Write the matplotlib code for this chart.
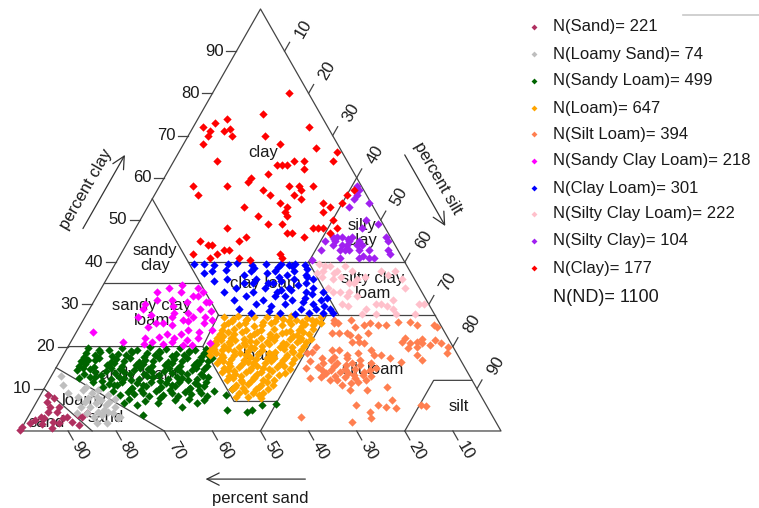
import numpy as np
import matplotlib.pyplot as plt
from matplotlib.lines import Line2D

plt.rcParams['font.family'] = ['Liberation Sans', 'DejaVu Sans']

# ---- samples: (percent sand, percent clay) ----
pts_sand = [(99.8, 0.3), (99, 1), (97, 1.9), (95.5, 2.6), (94.5, 1.7), (94, 3.3), (93.5, 3),
            (93, 0.7), (92, 2.1), (92, 4.5), (91, 1.9), (91, 5.7), (91, 6.9), (90, 8.5),
            (90, 4.5), (89, 7.8), (89, 5.7), (89.5, 3.1), (88.5, 3.3), (88, 2.2), (86, 3.8),
            (85.5, 3.3), (84, 4.3), (87, 1.5)]
pts_loamy_sand = [(85, 13), (85.5, 9), (84, 8), (82, 9.7), (81, 10.4), (80.5, 9), (79, 9.7),
                  (78, 10.2), (77.5, 8.5), (83, 6.9), (82.5, 5.7), (81, 6.6), (79.5, 7.3),
                  (79, 6.2), (78, 6.9), (77.5, 5.7), (84, 4.3), (83, 3.3), (81.5, 4.5), (81, 3.8),
                  (79.5, 4.5), (78.5, 4.3), (78, 3.1), (84.5, 5.7), (86, 4.3), (83, 1.9),
                  (81, 1.9), (77.5, 3.3), (80, 8), (82, 7.8), (80, 5), (76.5, 7.5), (85.5, 11)]
pts_sandy_loam = [
    (76, 19.6), (72, 19.2), (69, 19.7), (66, 19.3), (63, 19.8), (60, 19.4), (57, 19.6), (54, 19.1), (51.5, 19.5),
    (77, 18.5), (74, 18.8), (70.5, 18.3), (67.5, 18.6), (64.5, 18.4), (61.5, 18.7), (58.5, 18.3), (55.5, 18.6), (52.5, 18.4),
    (78, 17.5), (75, 17.2), (72, 17.7), (68.5, 17.4), (65.5, 17.6), (62.5, 17.3), (59.5, 17.7), (56.5, 17.4), (53.5, 17.6), (51.5, 17.2),
    (79, 16.5), (76, 16.8), (73, 16.3), (70, 16.6), (67, 16.4), (64, 16.7), (61, 16.3), (58, 16.6), (55, 16.4), (52.5, 16.7),
    (80, 15.5), (77, 15.2), (74, 15.7), (71, 15.4), (68, 15.6), (65, 15.3), (62, 15.7), (59, 15.4), (56, 15.6), (53.5, 15.3),
    (81, 14.5), (78, 14.8), (75, 14.3), (72, 14.6), (69, 14.4), (66, 14.7), (63, 14.3), (60, 14.6), (57, 14.4), (54.5, 14.7),
    (80, 13.5), (76.5, 13.2), (73.5, 13.7), (70.5, 13.4), (67.5, 13.6), (64.5, 13.3), (61.5, 13.7), (58.5, 13.4), (55.5, 13.6),
    (81.5, 12.5), (78, 12.8), (75, 12.3), (72, 12.6), (69, 12.4), (66, 12.7), (63, 12.3), (60, 12.6), (57, 12.4), (54.5, 12.7),
    (79, 11.5), (76, 11.2), (73, 11.7), (70, 11.4), (67, 11.6), (64, 11.3), (61, 11.7), (58, 11.4), (55.5, 11.6),
    (77.5, 10.5), (74.5, 10.8), (71.5, 10.3), (68.5, 10.6), (65.5, 10.4), (62.5, 10.7), (59.5, 10.3), (56.5, 10.6),
    (76, 9.5), (73, 9.2), (70, 9.7), (67, 9.4), (64, 9.6), (61, 9.3), (58, 9.7), (55, 9.4),
    (75, 8.5), (72, 8.8), (69, 8.3), (66, 8.6), (63, 8.4), (60, 8.7), (57, 8.3),
    (73.5, 7.5), (70.5, 7.2), (67, 7.7), (64, 7.4), (61, 7.6), (58, 7.3),
    (75, 6.6), (72.6, 6.2), (68, 6.6), (63.5, 5.7), (60, 6.6), (72.5, 3.8), (54.5, 5),
    (50.5, 4.5), (46.5, 6.2), (49.3, 5), (53, 8.5), (51, 10), (43.5, 6.5),
    (74, 19.1), (67.5, 19.0), (61.5, 19.0), (55.5, 18.9), (75.5, 18.0), (69, 17.9), (63, 18.0),
    (57, 17.9), (52, 17.9), (77.5, 16.9), (71.5, 17.0), (65.5, 16.9), (59.5, 17.0), (54, 16.9),
    (78.5, 15.9), (72.5, 16.0), (66.5, 15.9), (60.5, 16.0), (55, 15.9), (79.5, 14.9), (73.5, 15.0),
    (67.5, 15.0), (61.5, 14.9), (56, 15.0), (77.5, 13.9), (71.5, 13.9), (65.5, 14.0), (59.5, 13.9),
    (79, 12.9), (73, 12.9), (67, 13.0), (61, 12.9), (55.5, 13), (77, 11.9), (71, 12.0), (65, 11.9),
    (59, 12.0), (75, 10.9), (69, 11.0), (63, 10.9), (57.5, 11.0), (72, 9.9), (66, 10.0), (60, 9.9),
    (70, 8.9), (64, 9.0), (58, 8.9)]
pts_loam = [
    (44, 27), (41, 27.2), (38, 26.9), (35, 27.1), (33, 27), (30, 27.2), (27, 26.8), (24, 27),
    (43, 26), (40, 26.2), (36.5, 25.8), (34, 26.1), (31, 26), (28.5, 25.9), (25.5, 26.1), (24.5, 25.7),
    (45, 25), (42, 25.1), (39, 24.9), (37, 25.2), (33, 25), (29, 24.8), (26.5, 25),
    (46, 24), (43.5, 24.1), (41, 23.9), (38, 24), (35, 24.2), (32, 23.8), (30, 24), (27, 24.1),
    (47, 23), (44, 23.1), (40, 22.9), (36.5, 23), (34, 23.2), (31, 22.8), (28.5, 23),
    (48, 22), (45, 22.1), (42.5, 21.9), (39, 22), (37, 22.2), (33, 21.9), (30.5, 22), (28.5, 21.8),
    (49, 21), (46, 21.1), (43, 20.9), (40.5, 21), (38, 21.2), (35, 20.8), (32, 21), (30, 21.1),
    (50, 20), (47.5, 20.1), (44.5, 19.9), (42, 20), (39.5, 20.2), (36, 19.8), (33.5, 20), (31, 20.1),
    (51, 19), (48.5, 19.1), (46, 18.9), (43, 19), (40, 19.2), (37.5, 18.8), (34, 19), (32, 19.1),
    (51.5, 18), (49, 18.1), (46.5, 17.9), (44, 18), (41.5, 18.2), (38.5, 17.8), (35.5, 18), (33, 18.1),
    (50, 17), (47.5, 17.1), (45, 16.9), (42.5, 17), (40, 17.2), (37, 16.8), (34.5, 17),
    (51, 16), (48.5, 16.1), (46, 15.9), (43.5, 16), (41, 16.2), (38, 15.8), (35.5, 16),
    (50, 15), (47, 15.1), (44.5, 14.9), (42, 15), (39, 15.2), (36.5, 14.8),
    (51, 14), (48.5, 14.1), (46, 13.9), (43, 14), (40.5, 14.2), (38, 13.8),
    (50, 13), (47.5, 13.1), (45, 12.9), (42, 13), (39.5, 13.2),
    (51, 12), (48, 12.1), (46, 11.9), (43.5, 12), (41, 12.2),
    (49.5, 11), (47, 11.1), (44.5, 10.9), (42, 11),
    (51, 10), (48.5, 10.1), (46, 9.9), (43.5, 10),
    (50, 9), (47, 9.1), (45, 8.9),
    (51, 8), (48.5, 8.1), (46, 7.9),
    (42.5, 26.5), (39.5, 26.6), (32, 26.5), (29.5, 26.4), (26, 26.4), (44, 25.5), (40.5, 25.6),
    (35, 25.5), (31, 25.4), (28, 25.4), (45, 23.5), (42, 23.5), (39, 23.4), (33, 23.5), (29.5, 23.4),
    (46.5, 22.5), (41, 22.5), (35.5, 22.6), (32, 22.4), (47.5, 21.5), (44.5, 21.5), (41.5, 21.4),
    (36.5, 21.5), (31, 21.5), (49, 20.5), (46, 20.6), (43, 20.4), (38, 20.5), (34.5, 20.5),
    (50, 19.5), (47, 19.5), (41.5, 19.6), (35.5, 19.4), (50, 18.5), (45, 18.5), (39, 18.4),
    (34, 18.6), (49, 17.5), (43.5, 17.5), (38.5, 17.4), (36, 17.5), (49.5, 16.5), (44.5, 16.4),
    (39.5, 16.6), (48.5, 15.5), (43, 15.5), (37.5, 15.4), (49.5, 14.5), (45, 14.5), (41, 14.6),
    (48.5, 13.5), (44, 13.5), (49.5, 12.5), (45, 12.5), (48, 11.5), (43, 11.5), (50, 10.5),
    (45, 10.5), (48.5, 9.5), (46, 8.5)]
pts_silt_loam = [
    (21, 25.6), (18, 26.3), (18, 24.6), (16, 25), (14.5, 25.6), (13, 25), (11.5, 25), (8.5, 25.8),
    (6, 25.8), (5, 25), (1.5, 25), (23.5, 23.2), (22, 23.2), (20, 22.7), (18.5, 22.3), (16, 23.2),
    (20.5, 21.1), (19, 21.1), (18, 20.9), (10, 21.1), (8.5, 20.9), (7, 21.1), (6, 20.9), (4.5, 20.4),
    (2, 20.9), (1, 19.9), (2, 18.5), (9.5, 19.7), (8.5, 18), (24, 19.2), (23, 18), (20.5, 18.5),
    (17.5, 19.2), (17.5, 18), (16, 18), (14.5, 17.3), (12.5, 16.4), (8, 16.8), (30, 18.7), (28.5, 17.3),
    (27, 16.8), (33, 14.9), (30.5, 15.2), (30, 14.5), (28, 14.5), (26.5, 14), (25, 13.7), (24, 13.3),
    (21.5, 14), (20, 14.5), (18.5, 14.9), (21.5, 15.6), (23, 16.1), (24.5, 15.6), (19, 16.1),
    (33.5, 12.6), (31, 12.8), (29.5, 12.1), (28, 12.1), (25.5, 11.4), (24, 11.6), (22, 12.1),
    (26.5, 9.7), (23, 9.7), (18.5, 10.4), (27, 6.2), (22.5, 6.2), (21, 5.7), (19, 5.5), (13.5, 6.2),
    (25, 4.5), (25.5, 3.1), (30, 2.1), (40, 3.3), (29.5, 13.7), (31, 18.5), (28.5, 19.9), (19, 7.3),
    (12.5, 6), (1, 24.6), (22, 25.6), (20.5, 23.2), (21.5, 26.3), (26, 16.1), (25.5, 19.2),
    (27, 15.5), (25, 14.8), (23, 14.7), (22, 13.3), (26, 12.8), (28, 13.1), (30, 13.5), (24, 12.5),
    (20.5, 13), (27.5, 11), (21, 16.8), (23.5, 17.2), (26, 17.5), (29, 16), (31.5, 16.5),
    (5.5, 21.8), (3, 21.5), (9, 22), (7.5, 20)]
pts_sandy_clay_loam = [
    (55, 33), (50, 33), (48, 32), (50, 30.5), (53.5, 29.5), (47, 32), (46, 30.5), (46, 28.5), (48, 29),
    (50.5, 27), (53, 26.3), (55, 27), (57.5, 25.6), (58, 23), (60, 22.3), (62, 21), (63, 22), (61, 24.6),
    (73, 23.5), (68, 21), (55, 23), (53, 24), (49, 25.6), (47, 26.3), (48, 24), (52, 22), (54.5, 21.5),
    (58, 21), (60, 20.5), (64, 20.5), (54, 20.4), (56, 20.3), (60, 29), (59, 27.5), (45.5, 33),
    (45.5, 30.5), (52, 34), (49, 34.5), (53, 31), (56, 31), (51, 28), (56, 25), (59, 25.5), (51, 23.5),
    (57, 22), (50, 20.8), (52, 26), (54, 28), (48, 27), (46, 34), (59, 30), (62, 27)]
pts_clay_loam = [
    (44, 39.5), (42, 39.6), (40, 39.4), (37, 39.5), (35, 39.7), (32, 39.4), (29, 39.6), (26, 39.5),
    (24.5, 39.3), (23, 39.6), (21, 39.4), (43, 37.5), (41, 38), (38, 38.2), (35, 37), (33, 38),
    (30, 37.5), (28, 38), (26, 37), (24, 38), (22, 37), (21, 38.5), (42, 35.5), (39, 36), (36, 35),
    (33, 36), (31, 35), (28, 35.5), (25, 36), (23, 35), (21, 36), (27, 34), (41, 33), (38, 34),
    (35, 33), (32, 34), (30, 33), (27, 33.5), (24, 33), (22, 34), (20.5, 33), (29, 32), (40, 31),
    (37, 32), (34, 31), (31, 32), (28, 31), (25, 31.5), (22, 31), (20.5, 31.5), (40, 29), (36, 30),
    (33, 29.5), (30, 30), (27, 29), (24, 30), (21, 29), (34, 28.5), (38, 28), (32, 28), (26, 28),
    (23, 28), (21, 28), (29, 27.8), (24, 39), (27, 38.8), (22, 36.5), (25, 34.5), (23, 32.5),
    (26, 30.5), (28, 36.5), (30, 35), (32, 38.6), (34, 35), (24, 28.8), (22, 29.5), (29, 33.5)]
pts_silty_clay_loam = [
    (18, 39.5), (17, 39), (15, 38), (13, 39), (12, 38), (19, 36.5), (17, 36), (15, 36.5), (14, 35),
    (12, 36), (10, 36.5), (6, 38), (5, 37), (3, 38), (2.5, 36), (3, 34), (15, 33), (14, 32),
    (18.5, 33), (19, 34), (18, 30), (13.5, 29), (10, 30), (8, 29), (2, 30), (4, 27.8), (15, 27.8),
    (8, 27.8), (12, 27.8), (18, 38), (19.5, 37.5), (16, 39), (16, 37.5), (13, 35), (16, 32),
    (11, 30), (9, 29.5), (7, 31), (1, 30), (17, 29.5), (17, 33)]
pts_silty_clay = [
    (1, 58), (2, 56), (3, 55), (1, 57), (0.5, 54), (5, 53), (1, 49), (1, 46), (1, 45), (12, 46),
    (11, 46), (10, 46), (9, 45), (8, 46), (12, 45), (11, 44), (10, 44), (8, 44), (7, 45), (13, 44),
    (12, 43), (11, 43), (10, 43), (8, 43), (7, 44), (6, 43), (14, 45), (16, 43), (7, 41), (6, 41),
    (2, 43), (2, 42), (9, 41), (13, 41), (19, 40.5), (8, 41.5), (9, 45.5), (12, 45.5), (5, 48), (3, 50)]
pts_clay = [
    (4, 80), (12, 75), (20, 74), (23, 73), (26, 72), (25, 71), (26, 70), (22, 71), (21, 70),
    (20.5, 71.5), (4, 72), (14, 70), (12, 68), (28, 68), (5, 67), (1, 66), (3, 64), (27, 64),
    (15, 63), (14, 63), (13, 63), (11, 64), (9, 64), (10, 62), (18, 61), (22, 60), (23, 59),
    (35, 58), (35, 56), (28, 58), (15, 58), (13, 58), (15, 56), (21, 57), (20, 56), (10, 58),
    (4, 56), (2, 57), (19, 54), (14, 55), (27, 53), (25, 51), (18, 53), (19, 52), (19, 51),
    (10, 54), (9, 53), (11, 52), (10, 50), (24, 49), (21, 49), (33, 48), (30, 46), (21, 47),
    (20, 47), (18, 46), (15, 48), (14, 48), (13, 48), (40, 45), (39, 44), (38, 44), (32, 45),
    (36, 43), (43, 42), (40, 41), (25, 42), (25, 41), (10, 48), (34, 41), (32, 40.5), (38, 42),
    (35, 43), (12, 47), (6, 54), (13, 57)]

class_names = ['Sand', 'Loamy Sand', 'Sandy Loam', 'Loam', 'Silt Loam',
               'Sandy Clay Loam', 'Clay Loam', 'Silty Clay Loam', 'Silty Clay', 'Clay']
class_counts = [221, 74, 499, 647, 394, 218, 301, 222, 104, 177]
nd_count = 1100
class_colors = ['#b03060', '#bebebe', '#006400', '#ffa500', '#ff7f50',
                '#ff00ff', '#0000ff', '#ffc0cb', '#a020f0', '#ff0000']
class_points = [pts_sand, pts_loamy_sand, pts_sandy_loam, pts_loam, pts_silt_loam,
                pts_sandy_clay_loam, pts_clay_loam, pts_silty_clay_loam, pts_silty_clay, pts_clay]
tick_values = [10, 20, 30, 40, 50, 60, 70, 80, 90]

# USDA class boundaries as (sand, clay) polylines
boundaries = [
    [(100, 0), (0, 0), (0, 100), (100, 0)],
    [(85, 0), (90, 10)],
    [(70, 0), (85, 15)],
    [(80, 20), (52, 20), (52, 7), (43, 7), (50, 0)],
    [(52, 20), (45, 27.5)],
    [(45, 27.5), (0, 27.5)],
    [(45, 27.5), (45, 55)],
    [(65, 35), (45, 35)],
    [(45, 40), (0, 40)],
    [(20, 27.5), (20, 40)],
    [(20, 40), (0, 60)],
    [(22.5, 27.5), (43, 7)],
    [(0, 12), (8, 12), (20, 0)],
]

class_labels = [
    ('clay', 16.5, 65.9), ('sandy\nclay', 51.4, 41.0), ('silty\nclay', 5.5, 46.9),
    ('clay loam', 31.5, 35.0), ('silty clay\nloam', 9.4, 34.4), ('sandy clay\nloam', 58.6, 28.0),
    ('loam', 41, 17.8), ('silt loam', 19.5, 14.5), ('sandy loam', 69.5, 13.3),
    ('loamy', 83, 7.3), ('sand', 80.7, 3.1), ('sand', 93.5, 1.9), ('silt', 5.85, 5.7),
]


def tern(sand, clay):
    sand = np.asarray(sand, float)
    clay = np.asarray(clay, float)
    return 100 - sand - clay / 2, clay


line_col = '#444444'
txt_col = '#1a1a1a'
fig = plt.figure(figsize=(7.59, 5.08), dpi=100)
ax = fig.add_axes([0, 0, 1, 1])
ax.set_xlim(-4.16, 153.64)
ax.set_ylim(-18.25, 102.13)
ax.axis('off')

for poly in boundaries:
    s, c = zip(*poly)
    x, y = tern(s, c)
    ax.plot(x, y, color=line_col, lw=0.9, zorder=1)

# ticks and tick labels on the three sides
for v in tick_values:
    # clay (left side)
    ax.plot([v / 2, v / 2 - 2.1], [v, v], color=line_col, lw=0.9)
    ax.text(v / 2 - 2.7, v, str(v), ha='right', va='center', fontsize=12, color=txt_col)
    # sand (bottom)
    x0 = 100 - v
    ax.plot([x0, x0 + 1.05], [0, -2.1], color=line_col, lw=0.9)
    ax.text(x0 + 2.5, -4.6, str(v), ha='center', va='center', rotation=-60,
            fontsize=12, color=txt_col)
    # silt (right side)
    x0, y0 = 50 + v / 2, 100 - v
    ax.plot([x0, x0 + 1.05], [y0, y0 + 2.1], color=line_col, lw=0.9)
    ax.text(x0 + 3.9, y0 + 5.4, str(v), ha='center', va='center', rotation=60,
            fontsize=12, color=txt_col)

for text, s, c in class_labels:
    x, y = tern(s, c)
    ax.text(x, y, text, ha='center', va='center', fontsize=12, color=txt_col,
            linespacing=1.05, zorder=1.5)

for pts, col in zip(class_points, class_colors):
    s, c = zip(*pts)
    x, y = tern(s, c)
    ax.scatter(x, y, marker='D', s=18, color=col, linewidths=0, zorder=3)

# axis arrows and titles
arrow = dict(arrowstyle='->', color='#333333', lw=0.9, mutation_scale=22)
ax.annotate('', xy=(38.0, -11.4), xytext=(59.9, -11.4), arrowprops=arrow)
ax.text(49.9, -15.9, 'percent sand', ha='center', va='center', fontsize=12, color=txt_col)
ax.annotate('', xy=(22.1, 66.0), xytext=(12.8, 47.4), arrowprops=arrow)
ax.text(13.7, 57.3, 'percent clay', ha='center', va='center', rotation=60,
        fontsize=12, color=txt_col)
ax.annotate('', xy=(88.7, 48.0), xytext=(79.7, 66.0), arrowprops=arrow)
ax.text(86.9, 60.0, 'percent silt', ha='center', va='center', rotation=-60,
        fontsize=12, color=txt_col)

# legend on the right
leg_y = [27, 54, 81, 108, 134, 161, 188, 214, 241, 268]
for name, n, col, yy in zip(class_names, class_counts, class_colors, leg_y):
    fy = 1 - yy / 508
    fig.lines.append(Line2D([534 / 759], [fy], transform=fig.transFigure, marker='D',
                            ms=3.0, color=col, ls='', mew=0))
    fig.text(553 / 759, fy, f'N({name})= {n}', fontsize=12, va='center', color=txt_col)
fig.text(553 / 759, 1 - 298 / 508, f'N(ND)= {nd_count}', fontsize=13, va='center', color=txt_col)
fig.lines.append(Line2D([683 / 759, 1], [1 - 15 / 508] * 2, transform=fig.transFigure,
                        color='#c8c8c8', lw=1.2))

fig.savefig('out.png', dpi=100)
